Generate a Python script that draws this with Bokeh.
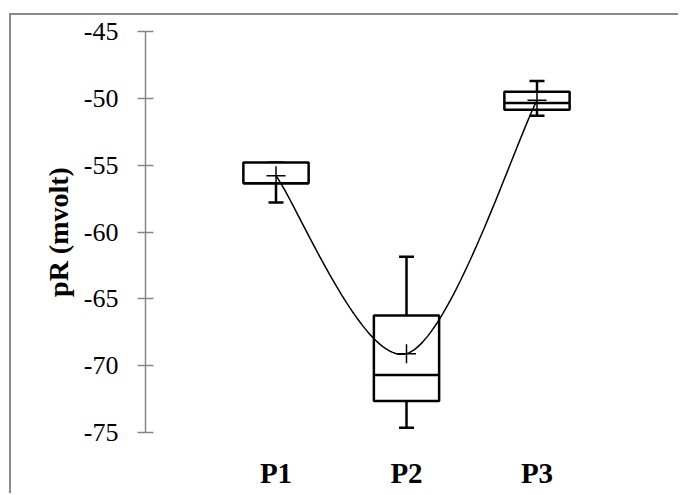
import numpy as np
from bokeh.plotting import figure
from bokeh.models import Range1d, FixedTicker, ColumnDataSource
from bokeh.embed import file_html
from bokeh.resources import INLINE

# Box-plot statistics for the three groups (mvolt)
groups = ["P1", "P2", "P3"]
positions = [1, 2, 3]
minimum = [-57.8, -74.65, -51.3]
q1 = [-56.35, -72.65, -50.85]
median = [-56.35, -70.7, -50.35]
q3 = [-54.8, -66.25, -49.5]
maximum = [-54.8, -61.85, -48.7]
mean = [-55.8, -69.1, -50.15]

y_ticks = [-75, -70, -65, -60, -55, -50, -45]
y_tick_labels = ["-75", "-70", "-65", "-60", "-55", "-50", "-45"]

serif = "Liberation Serif"

p = figure(width=669, height=480, output_backend="svg", toolbar_location=None,
           x_range=Range1d(0, 4), y_range=Range1d(-75, -45),
           min_border_left=134, min_border_right=13, min_border_top=16, min_border_bottom=63,
           styles={"margin-left": "9px", "margin-top": "13px",
                   "border-left": "2px solid #8a8a8a", "border-top": "2px solid #8a8a8a"})
p.outline_line_color = None
p.grid.visible = False
p.background_fill_color = "white"
p.border_fill_color = "white"

# y axis (plain hyphen for the minus sign)
ya = p.yaxis[0]
ya.ticker = FixedTicker(ticks=y_ticks)
ya.major_label_overrides = {t: s for t, s in zip(y_ticks, y_tick_labels)}
ya.minor_tick_line_color = None
ya.axis_line_color = "#868686"
ya.axis_line_width = 1.5
ya.major_tick_line_color = "#868686"
ya.major_tick_line_width = 1.5
ya.major_tick_in = 8
ya.major_tick_out = 8
ya.major_label_text_font = serif
ya.major_label_text_font_size = "26px"
ya.major_label_text_color = "black"
ya.major_label_standoff = 19
ya.axis_label = "pR (mvolt)"
ya.axis_label_text_font = serif
ya.axis_label_text_font_style = "bold"
ya.axis_label_text_font_size = "28px"
ya.axis_label_text_color = "black"
ya.axis_label_standoff = 7

# x axis: category names only
xa = p.xaxis[0]
xa.ticker = FixedTicker(ticks=positions)
xa.major_label_overrides = {pos: g for pos, g in zip(positions, groups)}
xa.axis_line_color = None
xa.major_tick_line_color = None
xa.minor_tick_line_color = None
xa.major_label_text_font = serif
xa.major_label_text_font_style = "bold"
xa.major_label_text_font_size = "29px"
xa.major_label_text_color = "black"
xa.major_label_standoff = 18

src = ColumnDataSource(dict(x=positions, lo=minimum, q1=q1, med=median, q3=q3,
                            hi=maximum, mean=mean))

box_w = 0.5
lw = 2.5
# whisker stems and caps
p.segment(x0="x", y0="q3", x1="x", y1="hi", source=src, line_color="black", line_width=lw)
p.segment(x0="x", y0="q1", x1="x", y1="lo", source=src, line_color="black", line_width=lw)
p.scatter(x="x", y="hi", source=src, marker="dash", size=15, line_color="black", line_width=lw)
p.scatter(x="x", y="lo", source=src, marker="dash", size=15, line_color="black", line_width=lw)

# boxes and medians
p.vbar(x="x", top="q3", bottom="q1", width=box_w, source=src,
       fill_color="white", line_color="black", line_width=lw)
xs = np.array(positions, dtype=float)
p.segment(x0=xs - box_w / 2, y0=median, x1=xs + box_w / 2, y1=median,
          line_color="black", line_width=lw)

# smoothed line through the group means (cubic Bezier, Catmull-Rom tangents)
pts = np.column_stack([xs, np.array(mean, dtype=float)])
n = len(pts)
curve_x, curve_y = [], []
t = np.linspace(0, 1, 60)
for i in range(n - 1):
    p0 = pts[max(i - 1, 0)]
    p1 = pts[i]
    p2 = pts[i + 1]
    p3 = pts[min(i + 2, n - 1)]
    c1 = p1 + (p2 - p0) / 6.0
    c2 = p2 - (p3 - p1) / 6.0
    b = ((1 - t) ** 3)[:, None] * p1 + (3 * (1 - t) ** 2 * t)[:, None] * c1 \
        + (3 * (1 - t) * t ** 2)[:, None] * c2 + (t ** 3)[:, None] * p2
    curve_x.extend(b[:, 0])
    curve_y.extend(b[:, 1])
p.line(curve_x, curve_y, line_color="black", line_width=1.5)

# mean markers
p.scatter(x="x", y="mean", source=src, marker="cross", size=19, line_color="black", line_width=1.5)

open("out.html", "w").write(file_html(p, INLINE))
